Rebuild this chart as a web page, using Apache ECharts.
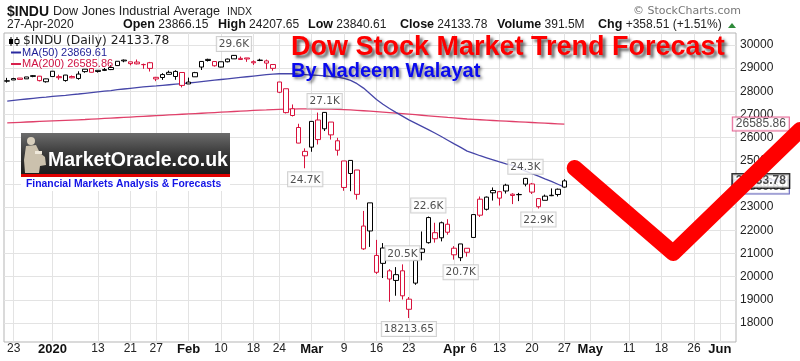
<!DOCTYPE html>
<html><head><meta charset="utf-8">
<script src="https://cdn.jsdelivr.net/npm/echarts@6/dist/echarts.min.js"></script>
<style>html,body{margin:0;padding:0;background:#fff}#c{width:800px;height:361px}</style>
</head><body><div id="c"></div>
<script>
const dates = [
'2019-12-20','2019-12-23','2019-12-24','2019-12-26','2019-12-27','2019-12-30','2019-12-31',
'2020-01-02','2020-01-03','2020-01-06','2020-01-07','2020-01-08','2020-01-09','2020-01-10','2020-01-13','2020-01-14','2020-01-15','2020-01-16','2020-01-17','2020-01-21','2020-01-22','2020-01-23','2020-01-24','2020-01-27','2020-01-28','2020-01-29','2020-01-30','2020-01-31',
'2020-02-03','2020-02-04','2020-02-05','2020-02-06','2020-02-07','2020-02-10','2020-02-11','2020-02-12','2020-02-13','2020-02-14','2020-02-18','2020-02-19','2020-02-20','2020-02-21','2020-02-24','2020-02-25','2020-02-26','2020-02-27','2020-02-28',
'2020-03-02','2020-03-03','2020-03-04','2020-03-05','2020-03-06','2020-03-09','2020-03-10','2020-03-11','2020-03-12','2020-03-13','2020-03-16','2020-03-17','2020-03-18','2020-03-19','2020-03-20','2020-03-23','2020-03-24','2020-03-25','2020-03-26','2020-03-27','2020-03-30','2020-03-31',
'2020-04-01','2020-04-02','2020-04-03','2020-04-06','2020-04-07','2020-04-08','2020-04-09','2020-04-13','2020-04-14','2020-04-15','2020-04-16','2020-04-17','2020-04-20','2020-04-21','2020-04-22','2020-04-23','2020-04-24','2020-04-27',
'2020-04-28','2020-04-29','2020-04-30','2020-05-01','2020-05-04','2020-05-05','2020-05-06','2020-05-07','2020-05-08','2020-05-11','2020-05-12','2020-05-13','2020-05-14','2020-05-15','2020-05-18','2020-05-19','2020-05-20','2020-05-21','2020-05-22','2020-05-26','2020-05-27','2020-05-28','2020-05-29','2020-06-01','2020-06-02','2020-06-03'];

const opens = [28440,28491,28573,28539,28676,28654,28414,
28638,28589,28465,28639,28556,28852,28982,28857,28904,28939,29111,29313,29273,29264,29150,29235,28605,28597,28820,28640,28813,
28319,28627,29048,29330,29287,29048,29393,29402,29373,29441,29279,29332,29313,29157,28403,28112,27248,26439,25217,
25591,26762,26383,26674,25457,24993,24453,24604,22185,21974,20917,20574,20251,19838,20253,19029,19722,21050,21468,21898,21678,22263,
21228,20819,21226,21693,23345,22908,23620,23669,23698,23560,23548,23994,24001,23370,23296,23495,23548,23866];
const highs = [28582,28582,28576,28621,28701,28664,28548,
28873,28717,28709,28685,28866,28959,29009,28908,29009,29124,29298,29374,29273,29373,29197,29271,28623,28783,28892,28908,28814,
28592,28840,29308,29408,29287,29276,29416,29568,29502,29441,29339,29406,29371,29157,28403,28112,27434,26600,25538,
26706,27084,27102,26674,25994,24993,25020,24604,22838,23186,21588,21450,20328,20412,20531,19122,20705,21951,22595,22327,22378,22480,
21316,21413,21227,22680,23461,23459,23851,23698,24009,23601,23617,24264,24046,23370,23543,23810,23804,24208];
const lows = [28375,28491,28503,28539,28608,28428,28376,
28627,28500,28418,28565,28502,28801,28819,28810,28876,28917,29094,29255,29123,29162,28972,28855,28440,28495,28733,28500,28170,
28319,28627,28921,29286,29068,29036,29251,29402,29368,29273,29141,29302,28959,28890,27924,27045,26916,25760,24681,
25391,25706,26286,25917,25226,23707,23690,23328,21154,21285,20116,19941,18917,19177,19013,18214,19649,20706,21427,21469,21523,21812,
20736,20672,20863,21693,22577,22858,23285,23071,23589,23133,23261,23898,23569,22941,23296,23475,23461,23841];
const closes = [28455,28551,28515,28621,28645,28462,28538,
28868,28634,28703,28583,28745,28956,28823,28907,28940,29030,29297,29348,29196,29186,29160,28990,28535,28723,28734,28859,28256,
28399,28807,29290,29379,29103,29276,29276,29551,29423,29398,29232,29348,29219,28992,27961,27081,26957,25766,25409,
26703,25917,27091,26121,25865,23851,25018,23553,21200,23186,20189,21237,19899,20087,19174,18592,20704,21200,22552,21637,22327,21917,
20944,21413,21053,22680,22654,23434,23719,23390,23950,23505,23538,24242,23650,23019,23475,23515,23775,24134];

const ma50 = [27580,27610,27640,27670,27700,27725,27750,27780,27805,27830,
27860,27885,27915,27945,27975,28005,28035,28070,28100,28130,
28160,28190,28215,28235,28260,28285,28310,28335,28360,28390,
28420,28450,28480,28510,28540,28570,28600,28630,28660,28690,
28720,28745,28760,28765,28760,28745,28725,28705,28685,28665,
28640,28610,28560,28470,28330,28140,27900,27650,27440,27260,
27090,26930,26770,26630,26490,26350,26200,26050,25890,25730,
25580,25420,25320,25220,25130,25040,24950,24870,24800,24680,
24560,24450,24340,24220,24110,23990,23870];
const ma200 = [26640,26652,26664,26676,26688,26700,26712,26724,26736,26748,
26760,26772,26785,26800,26815,26830,26845,26860,26875,26890,
26905,26920,26935,26950,26965,26980,26995,27010,27025,27040,
27055,27070,27085,27100,27115,27130,27145,27160,27175,27190,
27200,27212,27222,27230,27235,27240,27240,27240,27238,27235,
27230,27222,27210,27196,27180,27162,27142,27122,27102,27082,
27062,27040,27016,26992,26968,26944,26920,26896,26872,26850,
26828,26806,26790,26774,26758,26742,26727,26712,26697,26682,
26668,26654,26640,26626,26612,26599,26586];

const yTicks = [18000,19000,20000,21000,22000,23000,24000,25000,26000,27000,28000,29000,30000];
const xTickDates = ['2019-12-23','2020-01-02','2020-01-13','2020-01-21','2020-01-27','2020-02-03','2020-02-10','2020-02-18','2020-02-24','2020-03-02','2020-03-09','2020-03-16','2020-03-23','2020-04-01','2020-04-06','2020-04-13','2020-04-20','2020-04-27','2020-05-01','2020-05-11','2020-05-18','2020-05-26','2020-06-01'];
const xTickLabels = ['23','2020','13','21','27','Feb','10','18','24','Mar','9','16','23','Apr','6','13','20','27','May','11','18','26','Jun'];
const boldLabels = ['2020','Feb','Mar','Apr','May','Jun'];

const hiloDates = ['2020-02-12','2020-03-04','2020-02-28','2020-03-26','2020-03-20','2020-03-23','2020-04-02','2020-04-17','2020-04-21'];
const hiloValues = [29568,27102,24681,22595,20531,18213.65,20672,24264,22941];
const hiloTexts = ['29.6K','27.1K','24.7K','22.6K','20.5K','18213.65','20.7K','24.3K','22.9K'];
const hiloSides = ['top','top','bottom','top','top','bottom','bottom','top','bottom'];

const lastClose = 24133.78, lastMa50 = 23869.61, lastMa200 = 26585.86;

const forecastX = [87.6, 102.8, 122.4];
const forecastY = [24690, 21020, 26330];

const RED = '#d8123c';
const FONT = '"Liberation Sans", Arial, sans-serif';
const VFONT = '"DejaVu Sans", Verdana, sans-serif';

const tickIdx = xTickDates.map(d => dates.indexOf(d));
const tickText = {};
tickIdx.forEach((ix, k) => { tickText[ix] = xTickLabels[k]; });

const candleData = opens.map((o, i) => {
  const c = closes[i];
  const prev = i > 0 ? closes[i - 1] : c;
  const col = c >= prev ? '#000000' : RED;
  return { value: [o, c, lows[i], highs[i]],
    itemStyle: { color: '#ffffff', color0: col, borderColor: col, borderColor0: col } };
});

const chart = echarts.init(document.getElementById('c'), null, { renderer: 'canvas' });

const tagLabel = (txt, border, bold, bw) => ({
  show: true, position: 'right', distance: 0, formatter: txt,
  backgroundColor: '#fff', borderColor: border, borderWidth: bw || 1,
  padding: [1, 3, 0, 3], color: '#222', fontSize: 12, fontFamily: FONT,
  fontWeight: bold ? 'bold' : 'normal'
});

const option = {
  backgroundColor: '#ffffff',
  animation: false,
  grid: { left: 4, right: 64, top: 33, bottom: 19, show: true, borderColor: '#b5b5b5', borderWidth: 1, backgroundColor: 'transparent' },
  xAxis: [
    { type: 'category', data: dates, boundaryGap: true, show: false },
    { type: 'value', min: -0.5, max: 112.5, position: 'bottom',
      axisLine: { show: false }, axisTick: { show: false, customValues: tickIdx },
      axisLabel: { customValues: tickIdx, margin: 1, color: '#222', fontSize: 12, fontFamily: FONT,
        formatter: v => { const t = tickText[Math.round(v)] || ''; return boldLabels.includes(t) ? '{b|' + t + '}' : t; },
        rich: { b: { fontWeight: 'bold', fontSize: 13, color: '#111', fontFamily: FONT } } },
      splitLine: { show: true, lineStyle: { color: '#e3e3e3', width: 1 } } }
  ],
  yAxis: [{
    type: 'value', position: 'right', min: 17180, max: 30518, scale: true,
    axisLine: { show: false }, axisTick: { show: false, customValues: yTicks },
    axisLabel: { customValues: yTicks, margin: 4, color: '#222', fontSize: 12, fontFamily: FONT, formatter: v => String(v) },
    splitLine: { show: true, lineStyle: { color: '#e3e3e3', width: 1 } }
  }],
  series: [
    { type: 'line', name: 'MA(200)', xAxisIndex: 0, data: ma200, symbol: 'none', z: 3,
      lineStyle: { color: '#e0406a', width: 1.3 } },
    { type: 'line', name: 'MA(50)', xAxisIndex: 0, data: ma50, symbol: 'none', z: 3,
      lineStyle: { color: '#4646a8', width: 1.3 } },
    { type: 'candlestick', name: '$INDU', xAxisIndex: 0, data: candleData, barWidth: 5, z: 4,
      itemStyle: { borderWidth: 1 } },
    { type: 'scatter', xAxisIndex: 0, symbolSize: 0.1, silent: true, z: 6,
      itemStyle: { color: 'rgba(0,0,0,0)' },
      data: hiloDates.map((d, k) => ({ value: [d, hiloValues[k]],
        label: { show: true, position: hiloSides[k], formatter: hiloTexts[k] } })),
      label: { distance: 4, backgroundColor: '#ffffff', borderColor: '#c4c4c4', borderWidth: 1,
        padding: [2, 2, 1, 2], color: '#222', fontSize: 10.5, fontFamily: VFONT } },
    { type: 'scatter', xAxisIndex: 0, symbolSize: 0.1, silent: true, z: 7, itemStyle: { color: 'rgba(0,0,0,0)' },
      data: [{ value: [dates[dates.length - 1], lastMa50], label: tagLabel(lastMa50.toFixed(2), '#3c3ca8', false) }] },
    { type: 'scatter', xAxisIndex: 0, symbolSize: 0.1, silent: true, z: 8, itemStyle: { color: 'rgba(0,0,0,0)' },
      data: [{ value: [dates[dates.length - 1], lastClose], label: tagLabel(lastClose.toFixed(2), '#000', true, 1.5) },
             { value: [dates[dates.length - 1], lastMa200], label: tagLabel(lastMa200.toFixed(2), '#e0407a', false) }] },
    { type: 'custom', name: 'forecast', xAxisIndex: 1, yAxisIndex: 0, clip: false, z: 20, silent: true,
      data: forecastX.map((x, k) => [x, forecastY[k]]),
      encode: { x: 0, y: 1 },
      renderItem: (params, api) => {
        if (params.dataIndex !== 0) return null;
        const pts = forecastX.map((x, k) => api.coord([x, forecastY[k]]));
        return { type: 'polyline', z2: 100, shape: { points: pts },
          style: { stroke: '#ff0000', lineWidth: 16, lineCap: 'round', lineJoin: 'round', fill: null } };
      } }
  ],
  graphic: [
    { type: 'text', x: 7, y: 12, z: 50, style: { text: '$INDU', font: 'bold 14px ' + FONT, fill: '#111', verticalAlign: 'middle' } },
    { type: 'text', x: 53, y: 12, z: 50, style: { text: 'Dow Jones Industrial Average', font: '12.6px ' + FONT, fill: '#222', verticalAlign: 'middle' } },
    { type: 'text', x: 227, y: 12, z: 50, style: { text: 'INDX', font: '10.5px ' + FONT, fill: '#222', verticalAlign: 'middle' } },
    { type: 'text', x: 633, y: 11, z: 50, style: { text: '© StockCharts.com', font: '11px ' + VFONT, fill: '#777', verticalAlign: 'middle' } },
    { type: 'text', x: 7, y: 25, z: 50, style: { text: '27-Apr-2020', font: '12px ' + FONT, fill: '#222', verticalAlign: 'middle' } },
    { type: 'text', x: 123, y: 25, z: 50, style: { text: '{b|Open} 23866.15', font: '12px ' + FONT, fill: '#222', verticalAlign: 'middle', rich: { b: { font: 'bold 12.5px ' + FONT, fill: '#111' } } } },
    { type: 'text', x: 218, y: 25, z: 50, style: { text: '{b|High} 24207.65', font: '12px ' + FONT, fill: '#222', verticalAlign: 'middle', rich: { b: { font: 'bold 12.5px ' + FONT, fill: '#111' } } } },
    { type: 'text', x: 308, y: 25, z: 50, style: { text: '{b|Low} 23840.61', font: '12px ' + FONT, fill: '#222', verticalAlign: 'middle', rich: { b: { font: 'bold 12.5px ' + FONT, fill: '#111' } } } },
    { type: 'text', x: 400, y: 25, z: 50, style: { text: '{b|Close} 24133.78', font: '12px ' + FONT, fill: '#222', verticalAlign: 'middle', rich: { b: { font: 'bold 12.5px ' + FONT, fill: '#111' } } } },
    { type: 'text', x: 497, y: 25, z: 50, style: { text: '{b|Volume} 391.5M', font: '12px ' + FONT, fill: '#222', verticalAlign: 'middle', rich: { b: { font: 'bold 12.5px ' + FONT, fill: '#111' } } } },
    { type: 'text', x: 598, y: 25, z: 50, style: { text: '{b|Chg} +358.51 (+1.51%)', font: '12px ' + FONT, fill: '#222', verticalAlign: 'middle', rich: { b: { font: 'bold 12.5px ' + FONT, fill: '#111' } } } },
    { type: 'polygon', z: 50, shape: { points: [[728, 28], [736, 28], [732, 23]] }, style: { fill: '#2e8b3a' } },
    { type: 'line', z: 50, shape: { x1: 11, y1: 37, x2: 11, y2: 46 }, style: { stroke: '#000', lineWidth: 1 } },
    { type: 'rect', z: 51, shape: { x: 9, y: 39, width: 4, height: 5 }, style: { fill: '#000' } },
    { type: 'line', z: 50, shape: { x1: 17, y1: 37, x2: 17, y2: 46 }, style: { stroke: '#000', lineWidth: 1 } },
    { type: 'rect', z: 51, shape: { x: 15, y: 39.5, width: 4, height: 4 }, style: { fill: '#fff', stroke: '#000', lineWidth: 1 } },
    { type: 'text', x: 23, y: 41, z: 50, style: { text: '$INDU (Daily) 24133.78', font: '12.3px ' + VFONT, fill: '#222', verticalAlign: 'middle' } },
    { type: 'line', z: 50, shape: { x1: 11, y1: 52.5, x2: 21, y2: 52.5 }, style: { stroke: '#2a2aa0', lineWidth: 2 } },
    { type: 'text', x: 22, y: 52.5, z: 50, style: { text: 'MA(50) 23869.61', font: '11px ' + FONT, fill: '#1e1e96', verticalAlign: 'middle' } },
    { type: 'line', z: 50, shape: { x1: 11, y1: 64, x2: 21, y2: 64 }, style: { stroke: '#d8204c', lineWidth: 2 } },
    { type: 'text', x: 22, y: 64, z: 50, style: { text: 'MA(200) 26585.86', font: '11px ' + FONT, fill: '#d01444', verticalAlign: 'middle' } },
    { type: 'text', x: 291, y: 48, z: 60, style: { text: 'Dow Stock Market Trend Forecast', font: 'bold 27px ' + FONT, fill: '#ff0000', verticalAlign: 'middle',
      textShadowColor: 'rgba(0,0,0,0.6)', textShadowBlur: 3, textShadowOffsetX: 3, textShadowOffsetY: 3 } },
    { type: 'text', x: 291, y: 71, z: 60, style: { text: 'By Nadeem Walayat', font: 'bold 20px ' + FONT, fill: '#0a0aee', verticalAlign: 'middle',
      textShadowColor: 'rgba(0,0,0,0.5)', textShadowBlur: 3, textShadowOffsetX: 2, textShadowOffsetY: 2 } },
    { type: 'rect', z: 40, shape: { x: 21, y: 133, width: 209, height: 41 },
      style: { fill: new echarts.graphic.LinearGradient(0, 0, 0, 1, [{ offset: 0, color: '#6c6c6c' }, { offset: 0.5, color: '#3a3a3a' }, { offset: 1, color: '#1c1c1c' }]) } },
    { type: 'rect', z: 40, shape: { x: 21, y: 174, width: 209, height: 3 }, style: { fill: '#e00000' } },
    { type: 'rect', z: 40, shape: { x: 21, y: 177, width: 209, height: 14 }, style: { fill: '#ffffff' } },
    { type: 'circle', z: 41, shape: { cx: 31, cy: 141, r: 4 }, style: { fill: '#d8cfbd' } },
    { type: 'polygon', z: 41, shape: { points: [[26, 146], [36, 145], [40, 153], [45, 157], [46, 165], [40, 166], [39, 173], [25, 173], [24, 160]] },
      style: { fill: '#cbc1ad' } },
    { type: 'rect', z: 42, shape: { x: 35, y: 151, width: 7, height: 3 }, style: { fill: '#efe8da' } },
    { type: 'text', x: 48, y: 161, z: 42, style: { text: 'MarketOracle.co.uk', font: 'bold 19.5px ' + FONT, fill: '#ffffff', verticalAlign: 'middle' } },
    { type: 'text', x: 26, y: 184, z: 42, style: { text: 'Financial Markets Analysis & Forecasts', font: 'bold 10.4px ' + FONT, fill: '#1414e6', verticalAlign: 'middle' } }
  ]
};
chart.setOption(option);
</script></body></html>
